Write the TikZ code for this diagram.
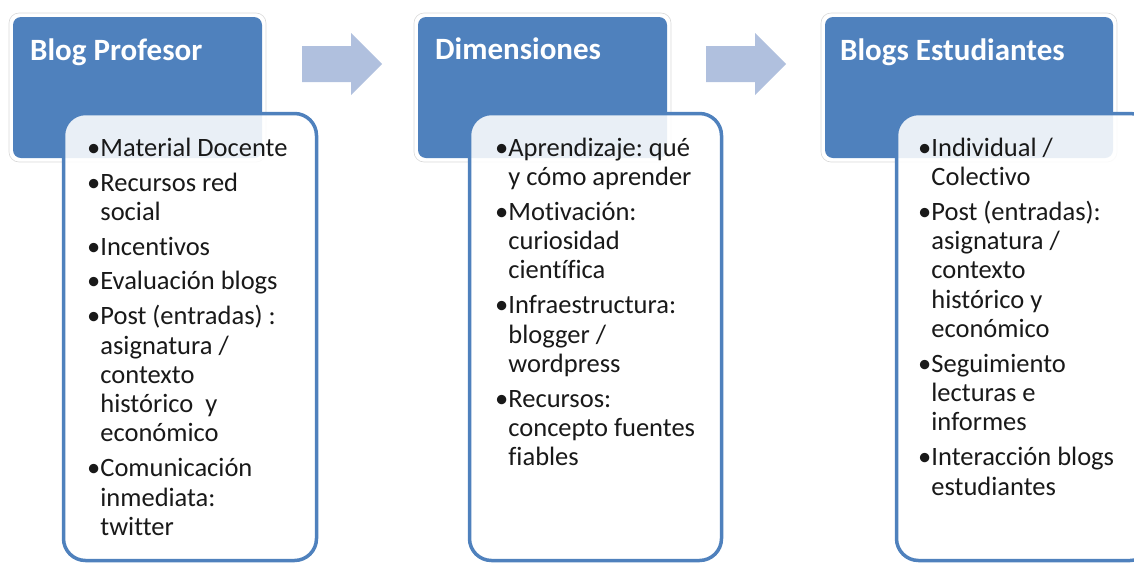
\documentclass[tikz,border=0pt]{standalone}
\usepackage{fontspec}
\setmainfont[Ligatures={NoCommon}]{Carlito}
\usepackage{tikz}
\usetikzlibrary{positioning}
\definecolor{headblue}{RGB}{79,129,189}
\definecolor{arrowblue}{RGB}{176,192,222}
\tikzset{
  halo/.style={rounded corners=10pt, fill=white, draw=black!15, line width=0.6pt},
  headbox/.style={rounded corners=8pt, fill=headblue},
  listbox/.style={rounded corners=22pt, draw=headblue, line width=3.5pt, fill=white, fill opacity=0.88},
  headtext/.style={anchor=base west, inner sep=0pt, text=white, font=\fontsize{31}{36}\selectfont\bfseries},
  listtext/.style={anchor=north west, inner sep=0pt, align=left, text=black!90, font=\fontsize{26.5}{29.3}\selectfont},
  bigarrow/.style={fill=arrowblue}
}
\newcommand{\firstitm}{\strut\textbullet}
\newcommand{\itm}{\textbullet}
\newcommand{\cnt}{\phantom{\textbullet}}
\frenchspacing

\begin{document}
\begin{tikzpicture}[x=1pt,y=-1pt]
	\useasboundingbox (0,0) rectangle (1134,563);
	% Blog Profesor
	\draw [halo] (9,13) rectangle (266,162);
	\fill [headbox] (13,17) rectangle (262,158);
	\node [headtext] (profhead) at (30,60) {Blog Profesor};
	\filldraw [listbox] (63.5,113.5) rectangle (316.5,560.5);
	\node [listtext] (profitems) at (87,135.5) {\firstitm Material Docente\\[5.5pt]
		\itm Recursos red\\ \cnt social\\[5.5pt]
		\itm Incentivos\\[5.5pt]
		\itm Evaluación blogs\\[5.5pt]
		\itm Post (entradas) :\\ \cnt asignatura /\\ \cnt contexto\\ \cnt histórico \ y\\ \cnt económico\\[5.5pt]
		\itm Comunicación\\ \cnt inmediata:\\ \cnt twitter};
	\fill [bigarrow] (302,46) -- (351,46) -- (351,33) -- (382,64) -- (351,95) -- (351,82) -- (302,82) -- cycle;
	% Dimensiones
	\draw [halo] (414,13) rectangle (671,162);
	\fill [headbox] (418,17) rectangle (667,158);
	\node [headtext] (dimhead) at (435,59) {Dimensiones};
	\filldraw [listbox] (469.5,113.5) rectangle (721.5,560.5);
	\node [listtext] (dimitems) at (495,135.5) {\firstitm Aprendizaje: qué\\ \cnt y cómo aprender\\[5.5pt]
		\itm Motivación:\\ \cnt curiosidad\\ \cnt científica\\[5.5pt]
		\itm Infraestructura:\\ \cnt blogger /\\ \cnt wordpress\\[5.5pt]
		\itm Recursos:\\ \cnt concepto fuentes\\ \cnt fiables};
	\fill [bigarrow] (706,46) -- (755,46) -- (755,33) -- (786,64) -- (755,95) -- (755,82) -- (706,82) -- cycle;
	% Blogs Estudiantes
	\draw [halo] (821,13) rectangle (1117,162);
	\fill [headbox] (825,17) rectangle (1113,158);
	\node [headtext] (esthead) at (840,60) {Blogs Estudiantes};
	\filldraw [listbox] (896.5,113.5) rectangle (1152,560.5);
	\node [listtext] (estitems) at (918,135.5) {\firstitm Individual /\\ \cnt Colectivo\\[5.5pt]
		\itm Post (entradas):\\ \cnt asignatura /\\ \cnt contexto\\ \cnt histórico y\\ \cnt económico\\[5.5pt]
		\itm Seguimiento\\ \cnt lecturas e\\ \cnt informes\\[5.5pt]
		\itm Interacción blogs\\ \cnt estudiantes};
\end{tikzpicture}
\end{document}
